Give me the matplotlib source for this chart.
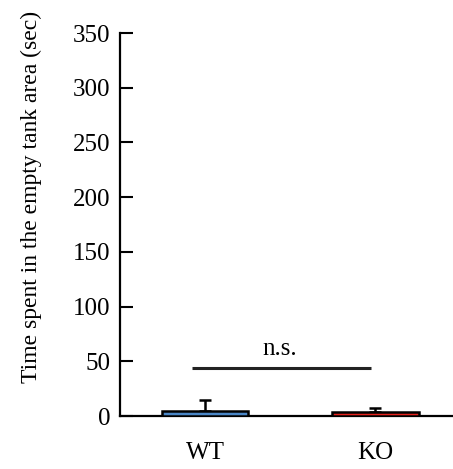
import numpy as np
import matplotlib
matplotlib.use('Agg')
import matplotlib.pyplot as plt

groups = ['WT', 'KO']
means = [5.0, 4.0]
sems = [10.0, 3.5]
colors = ['#4a86c6', '#e3211c']
sig_y = 44.0
sig_label = 'n.s.'

plt.rcParams['font.family'] = ['Liberation Serif', 'DejaVu Serif']

fig = plt.figure(figsize=(4.53, 4.69), dpi=100)
ax = fig.add_axes([0.265, 0.113, 0.735, 0.8166])

x = np.arange(len(groups))
ax.bar(x, means, width=0.51, color=colors, edgecolor='black', linewidth=1.8, zorder=3)
ax.errorbar(x, means, yerr=[np.zeros(len(sems)), sems], fmt='none', ecolor='black',
            elinewidth=1.8, capsize=4, capthick=1.8, zorder=2)

# significance bar between groups
ax.plot([-0.078, 0.974], [sig_y, sig_y], color='#222222', lw=2.2, solid_capstyle='butt')
ax.text(0.437, sig_y + 11.7, sig_label, ha='center', va='baseline', fontsize=18)

ax.set_xlim(-0.4985, 1.455)
ax.set_ylim(0, 350)
ax.set_yticks(np.arange(0, 351, 50))
ax.set_xticks(x)
ax.set_xticklabels(groups)
ax.tick_params(axis='y', direction='in', length=9.5, width=1.5, labelsize=18, pad=7)
ax.tick_params(axis='x', length=0, labelsize=18, pad=19)
for s in ('top', 'right'):
    ax.spines[s].set_visible(False)
for s in ('left', 'bottom'):
    ax.spines[s].set_linewidth(1.6)
ax.set_ylabel('Time spent in the empty tank area (sec)', fontsize=17)
ax.yaxis.set_label_coords(-0.234, 0.572)

fig.savefig('out.png', dpi=100)
